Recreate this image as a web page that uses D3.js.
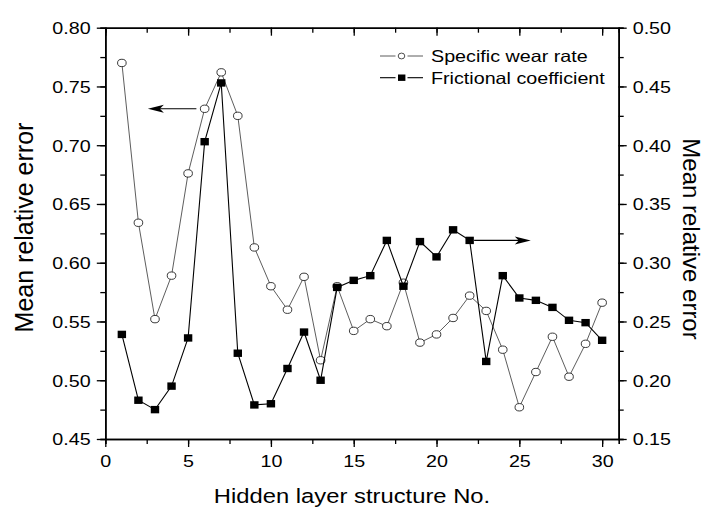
<!DOCTYPE html>
<html>
<head>
<meta charset="utf-8">
<script src="https://cdn.jsdelivr.net/npm/d3@7"></script>
<style>
  html, body { margin: 0; padding: 0; background: #fff; }
  svg { display: block; }
  text { font-family: "Liberation Sans", Arial, sans-serif; fill: #000; }
</style>
</head>
<body>
<svg id="chart" width="706" height="509"></svg>
<script>
// Hidden layer structure numbers
const structureNo = d3.range(1, 31);

// Mean relative error of the specific wear rate prediction (left axis)
const wearRateError = [
  0.770, 0.634, 0.552, 0.589, 0.676, 0.731, 0.762, 0.725, 0.613, 0.580,
  0.560, 0.588, 0.517, 0.580, 0.542, 0.552, 0.546, 0.583, 0.532, 0.539,
  0.553, 0.572, 0.559, 0.526, 0.477, 0.507, 0.537, 0.503, 0.531, 0.566
];

// Mean relative error of the frictional coefficient prediction (right axis)
const frictionError = [
  0.239, 0.183, 0.175, 0.195, 0.236, 0.403, 0.453, 0.223, 0.179, 0.180,
  0.210, 0.241, 0.200, 0.279, 0.285, 0.289, 0.319, 0.280, 0.318, 0.305,
  0.328, 0.319, 0.216, 0.289, 0.270, 0.268, 0.262, 0.251, 0.249, 0.234
];

// Tick values
const xTicks = [0, 5, 10, 15, 20, 25, 30];
const leftTicks = [0.45, 0.50, 0.55, 0.60, 0.65, 0.70, 0.75, 0.80];
const rightTicks = [0.15, 0.20, 0.25, 0.30, 0.35, 0.40, 0.45, 0.50];

const seriesNames = ["Specific wear rate", "Frictional coefficient"];
const axisTitleX = "Hidden layer structure No.";
const axisTitleY = "Mean relative error";

// Arrows pointing each series to its axis: [x start, x end, y value]
const leftArrow = { from: 5.5, to: 2.57, value: 0.731 };
const rightArrow = { from: 22.27, to: 25.69, value: 0.319 };

const svg = d3.select("#chart");
const plot = { left: 105.3, right: 618.7, top: 27.7, bottom: 439 };
const SX = 1.21; // horizontal stretch of the lettering

const x = d3.scaleLinear().domain([0, 31]).range([plot.left, plot.right]);
const yL = d3.scaleLinear().domain([0.45, 0.80]).range([plot.bottom, plot.top]);
const yR = d3.scaleLinear().domain([0.15, 0.50]).range([plot.bottom, plot.top]);

const fmt2 = d3.format(".2f");
const tickFont = 16.3;

function styleAxis(g) {
  g.select(".domain").attr("stroke", "#000").attr("stroke-width", 1.6);
  g.selectAll(".tick line").attr("stroke", "#000").attr("stroke-width", 1.3);
}

function minorAxis(axisFn, scale, values, size) {
  return axisFn(scale).tickValues(values).tickSize(size).tickFormat("");
}

const xMinor = d3.range(0, 31.01, 2.5);
const yLMinor = d3.range(0.45, 0.8001, 0.025);
const yRMinor = d3.range(0.15, 0.5001, 0.025);

// Minor ticks
svg.append("g").attr("transform", `translate(0,${plot.bottom})`)
  .call(minorAxis(d3.axisBottom, x, xMinor, 5)).call(styleAxis);
svg.append("g").attr("transform", `translate(0,${plot.top})`)
  .call(minorAxis(d3.axisBottom, x, xMinor, 5)).call(styleAxis);
svg.append("g").attr("transform", `translate(${plot.left},0)`)
  .call(minorAxis(d3.axisLeft, yL, yLMinor, 5)).call(styleAxis);
svg.append("g").attr("transform", `translate(${plot.right},0)`)
  .call(minorAxis(d3.axisRight, yR, yRMinor, 5)).call(styleAxis);

// Bottom axis
const gx = svg.append("g").attr("transform", `translate(0,${plot.bottom})`)
  .call(d3.axisBottom(x).tickValues(xTicks).tickSize(8).tickSizeOuter(0).tickFormat(d3.format("d")))
  .call(styleAxis);
gx.selectAll(".tick text")
  .attr("font-size", tickFont).attr("font-family", "Liberation Sans, Arial, sans-serif")
  .attr("y", 0).attr("dy", 0)
  .attr("transform", `translate(0,28) scale(${SX},1)`);

// Top frame with inward ticks
svg.append("g").attr("transform", `translate(0,${plot.top})`)
  .call(d3.axisBottom(x).tickValues(xTicks).tickSize(8).tickSizeOuter(0).tickFormat(""))
  .call(styleAxis);

// Left axis
const gl = svg.append("g").attr("transform", `translate(${plot.left},0)`)
  .call(d3.axisLeft(yL).tickValues(leftTicks).tickSize(8.5).tickSizeOuter(0).tickFormat(fmt2))
  .call(styleAxis);
gl.selectAll(".tick text")
  .attr("font-size", tickFont).attr("font-family", "Liberation Sans, Arial, sans-serif")
  .attr("x", -14.6 / SX).attr("dy", "0.36em")
  .attr("transform", `scale(${SX},1)`);

// Right axis
const gr = svg.append("g").attr("transform", `translate(${plot.right},0)`)
  .call(d3.axisRight(yR).tickValues(rightTicks).tickSize(8).tickSizeOuter(0).tickFormat(fmt2))
  .call(styleAxis);
gr.selectAll(".tick text")
  .attr("font-size", tickFont).attr("font-family", "Liberation Sans, Arial, sans-serif")
  .attr("x", 14 / SX).attr("dy", "0.36em")
  .attr("transform", `scale(${SX},1)`);

// Axis titles
svg.append("text")
  .attr("transform", `translate(352,503) scale(1.22,1)`)
  .attr("text-anchor", "middle").attr("font-size", 19.5)
  .text(axisTitleX);

svg.append("text")
  .attr("transform", "translate(33,227.5) rotate(-90)")
  .attr("text-anchor", "middle").attr("font-size", 25)
  .text(axisTitleY);

svg.append("text")
  .attr("transform", "translate(682.5,239) rotate(90)")
  .attr("text-anchor", "middle").attr("font-size", 24)
  .text(axisTitleY);

// Series: specific wear rate (left axis)
const wearData = structureNo.map((n, i) => ({ n, v: wearRateError[i] }));
const fricData = structureNo.map((n, i) => ({ n, v: frictionError[i] }));

svg.append("path")
  .datum(wearData)
  .attr("fill", "none").attr("stroke", "#333").attr("stroke-width", 0.8)
  .attr("d", d3.line().x(d => x(d.n)).y(d => yL(d.v)));

svg.append("g").selectAll("ellipse")
  .data(wearData).join("ellipse")
  .attr("cx", d => x(d.n)).attr("cy", d => yL(d.v))
  .attr("rx", 4.3).attr("ry", 3.7)
  .attr("fill", "#fff").attr("stroke", "#222").attr("stroke-width", 0.9);

// Series: frictional coefficient (right axis)
svg.append("path")
  .datum(fricData)
  .attr("fill", "none").attr("stroke", "#000").attr("stroke-width", 1.1)
  .attr("d", d3.line().x(d => x(d.n)).y(d => yR(d.v)));

svg.append("g").selectAll("rect")
  .data(fricData).join("rect")
  .attr("x", d => x(d.n) - 4.2).attr("y", d => yR(d.v) - 3.7)
  .attr("width", 8.4).attr("height", 7.4)
  .attr("fill", "#000");

// Arrows
function arrow(x1, x2, y, dir) {
  const headLen = 16, headHalf = 4;
  svg.append("line")
    .attr("x1", x1).attr("x2", x2 - dir * headLen * 0.6).attr("y1", y).attr("y2", y)
    .attr("stroke", "#000").attr("stroke-width", 1.1);
  svg.append("path")
    .attr("d", `M${x2},${y} L${x2 - dir * headLen},${y - headHalf} L${x2 - dir * headLen * 0.75},${y} L${x2 - dir * headLen},${y + headHalf} Z`)
    .attr("fill", "#000");
}
arrow(x(leftArrow.from), x(leftArrow.to), yL(leftArrow.value), -1);
arrow(x(rightArrow.from), x(rightArrow.to), yR(rightArrow.value), 1);

// Legend
const legend = svg.append("g");
const legendRows = [
  { name: seriesNames[0], y: 56, kind: "circle" },
  { name: seriesNames[1], y: 77.7, kind: "square" }
];
legendRows.forEach(r => {
  const stroke = r.kind === "circle" ? "#333" : "#000";
  const sw = r.kind === "circle" ? 0.8 : 1.1;
  legend.append("line").attr("x1", 380).attr("x2", 395.5).attr("y1", r.y).attr("y2", r.y)
    .attr("stroke", stroke).attr("stroke-width", sw);
  legend.append("line").attr("x1", 407.5).attr("x2", 423).attr("y1", r.y).attr("y2", r.y)
    .attr("stroke", stroke).attr("stroke-width", sw);
  if (r.kind === "circle") {
    legend.append("ellipse").attr("cx", 401.5).attr("cy", r.y).attr("rx", 3.3).attr("ry", 2.9)
      .attr("fill", "#fff").attr("stroke", "#222").attr("stroke-width", 0.8);
  } else {
    legend.append("rect").attr("x", 398).attr("y", r.y - 3.2).attr("width", 7.4).attr("height", 6.4)
      .attr("fill", "#000");
  }
  legend.append("text")
    .attr("transform", `translate(431,${r.y + 5.9}) scale(${SX},1)`)
    .attr("font-size", tickFont)
    .text(r.name);
});
</script>
</body>
</html>
